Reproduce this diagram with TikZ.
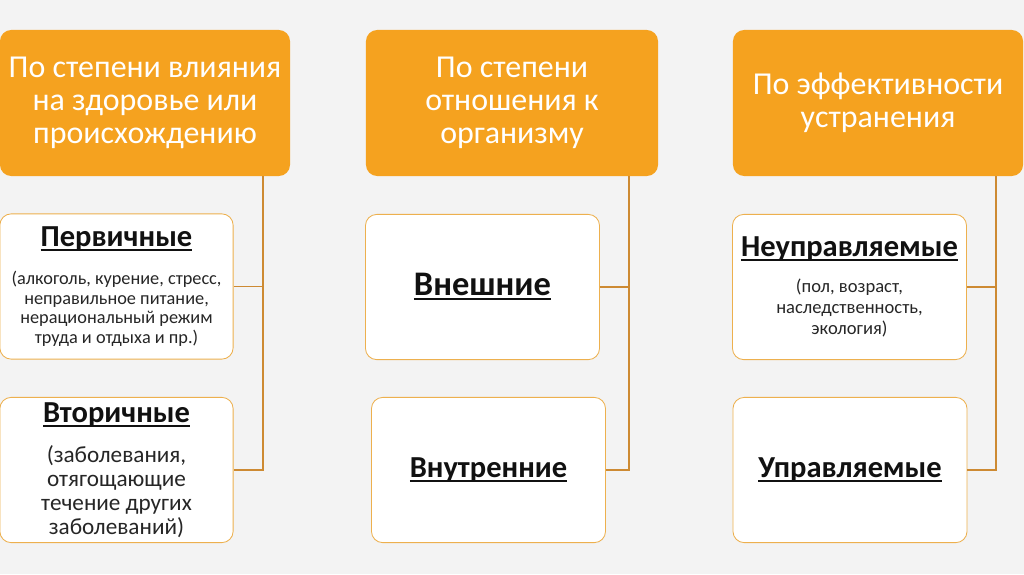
\documentclass[tikz,border=0pt]{standalone}
\usepackage{fontspec}
\setmainfont{Carlito}
\usepackage{xcolor}
\definecolor{bgPage}{HTML}{F3F3F3}
\definecolor{accentOrange}{HTML}{F5A21F}
\definecolor{borderOrange}{HTML}{EDB04E}
\definecolor{linkOrange}{HTML}{CD8A32}
\definecolor{textMain}{HTML}{111111}
\definecolor{textSecondary}{HTML}{262626}
\usetikzlibrary{calc, positioning}
% bold title with a thick underline
\newcommand{\ulTitle}[2][21.7]{\leavevmode{\fontsize{#1}{26}\selectfont\bfseries
  \setbox0=\hbox{#2}\rlap{\rule[-3.2pt]{\wd0}{1.4pt}}\box0}}
% title + note block: {title}{gap}{size}{skip}{lines}
\newcommand{\itemText}[5]{\parbox{5.6cm}{\centering
  \ulTitle{#1}\par\vspace{#2}
  \fontsize{#3}{#4}\selectfont\color{textSecondary}#5\par}}

\begin{document}
\begin{tikzpicture}[x=0.025cm, y=-0.025cm,
    headCard/.style={fill=accentOrange, rounded corners=8pt, inner sep=4pt,
      minimum width=7.25cm, minimum height=3.65cm, align=center,
      text=white, font=\fontsize{22.7}{23.5}\selectfont},
    itemCard/.style={fill=white, draw=borderOrange, line width=0.6pt, rounded corners=8pt,
      inner sep=2pt, minimum width=5.85cm, minimum height=3.63cm,
      text=textMain},
    link/.style={draw=linkOrange, line width=0.8pt}]
  % page
  \fill[bgPage] (0,0) rectangle (1024,574);
  \useasboundingbox (0,0) rectangle (1024,574);

  % headers
  \node[headCard] (hdrInfluence) at (145,103) {По степени влияния\\на здоровье или\\происхождению};
  \node[headCard, minimum width=7.3cm] (hdrRelation) at (512,103) {По степени\\отношения к\\организму};
  \node[headCard] (hdrRemoval) at (878,103) {По эффективности\\устранения};

  % first column
  \node[itemCard, minimum width=5.83cm] (boxPrimary) at (116.5,286.5) {%
    \itemText{Первичные}{13pt}{13}{14}{(алкоголь, курение, стресс,\\неправильное питание,\\нерациональный режим\\труда и отдыха и пр.)}};
  \node[itemCard, minimum width=5.83cm] (boxSecondary) at (116.5,470) {%
    \itemText{Вторичные}{11.5pt}{16.5}{17}{(заболевания,\\отягощающие\\течение других\\заболеваний)}};

  % second column
  \node[itemCard] (boxOuter) at (482.5,287) {\ulTitle[24.5]{Внешние}};
  \node[itemCard] (boxInner) at (488.5,470) {\ulTitle{Внутренние}};

  % third column
  \node[itemCard] (boxFixed) at (849.5,287) {%
    \itemText{Неуправляемые}{10.6pt}{13.2}{15}{(пол, возраст,\\наследственность,\\экология)}};
  \node[itemCard] (boxManaged) at (850,470) {\ulTitle{Управляемые}};

  % connectors
  \coordinate (busInfluence) at (263,0);
  \coordinate (busRelation) at (629,0);
  \coordinate (busRemoval) at (996,0);
  \draw[link] (hdrInfluence.south -| busInfluence) |- (boxSecondary.east);
  \draw[link] (boxPrimary.east) -- (boxPrimary.east -| busInfluence);
  \draw[link] (hdrRelation.south -| busRelation) |- (boxInner.east);
  \draw[link] (boxOuter.east) -- (boxOuter.east -| busRelation);
  \draw[link] (hdrRemoval.south -| busRemoval) |- (boxManaged.east);
  \draw[link] (boxFixed.east) -- (boxFixed.east -| busRemoval);
\end{tikzpicture}
\end{document}
